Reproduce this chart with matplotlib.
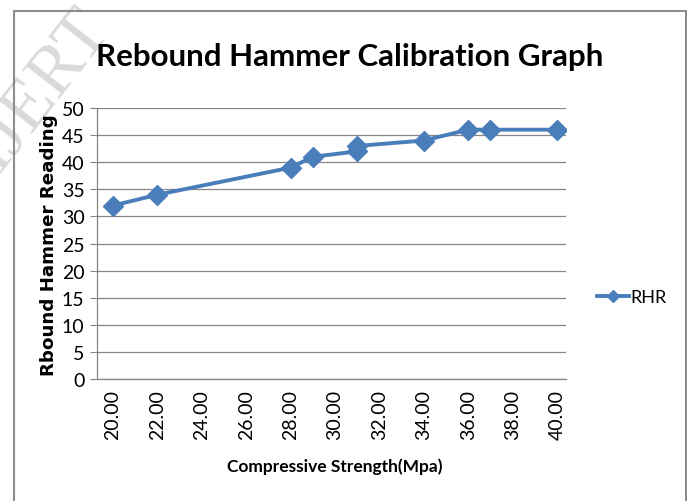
import matplotlib
matplotlib.use('Agg')
import matplotlib.pyplot as plt
from matplotlib.lines import Line2D
from matplotlib.patches import Rectangle

strength = [20, 22, 28, 29, 31, 31, 34, 36, 37, 40]
rhr = [32, 34, 39, 41, 42, 43, 44, 46, 46, 46]
xticks = [20, 22, 24, 26, 28, 30, 32, 34, 36, 38, 40]
yticks = [0, 5, 10, 15, 20, 25, 30, 35, 40, 45, 50]

font = ['Lato', 'DejaVu Sans']
blue = '#4A7EBB'
grey = '#868686'

fig = plt.figure(figsize=(6.87, 5.02), dpi=100)
ax = fig.add_axes([97/687, 1-380/502, (566-97)/687, (380-109)/502])

# chart frame
fig.add_artist(Rectangle((14/687, -0.05), (686-14)/687, 1.05-12/502,
                         transform=fig.transFigure, fill=False, ec='#8c8c8c', lw=1.5))

# watermark (cut off by the page edge, as in the source)
fig.text(98/687, 1-18/502, 'IJERT', rotation=52, rotation_mode='anchor',
         ha='right', va='center', fontsize=52, color='#dadada',
         family='Liberation Serif', zorder=0)

ax.plot(strength, rhr, color=blue, lw=2.8, marker='D', ms=10.5, mec=blue, mfc=blue, zorder=3)

ax.set_xlim(19.28, 40.4)
ax.set_ylim(0, 50)
ax.set_xticks(xticks)
ax.set_xticklabels(['%.2f' % v for v in xticks], rotation=90, family=font, fontsize=14)
ax.set_yticks(yticks)
ax.set_yticklabels([str(v) for v in yticks], family=font, fontsize=14)
ax.tick_params(axis='x', length=0, pad=7)
ax.tick_params(axis='y', length=5, color=grey, pad=4, direction='out')
ax.yaxis.grid(True, color=grey, lw=0.9)
ax.set_axisbelow(True)
for s in ['top', 'right']:
    ax.spines[s].set_visible(False)
for s in ['left', 'bottom']:
    ax.spines[s].set_color(grey)
    ax.spines[s].set_linewidth(0.9)

title = fig.text(350/687, 1-57/502, 'Rebound Hammer Calibration Graph', ha='center', va='center',
                 fontsize=24, fontweight='bold', family=font)
xlab = fig.text(335/687, 1-467/502, 'Compressive Strength(Mpa)', ha='center', va='center',
                fontsize=12.5, fontweight='bold', family=font)
ylab = fig.text(49/687, 1-245/502, 'Rbound Hammer Reading', ha='center', va='center', rotation=90,
                fontsize=11, fontweight='bold', family='DejaVu Sans')

# fit text lengths to the reference
r = fig.canvas.get_renderer()
for t, want, horiz in [(title, 507, True), (xlab, 216, True), (ylab, 261, False)]:
    bb = t.get_window_extent(r)
    got = bb.width if horiz else bb.height
    t.set_fontsize(t.get_fontsize() * want / got)

h = Line2D([], [], color=blue, lw=2.8, marker='D', ms=6, mfc=blue, mec=blue)
fig.legend([h], ['RHR'], loc='center left', bbox_to_anchor=(597/687, 1-298/502),
           frameon=False, prop={'family': font, 'size': 13}, handlelength=1.75,
           handletextpad=0.1, borderpad=0, borderaxespad=0)

fig.savefig('out.png', dpi=100)
